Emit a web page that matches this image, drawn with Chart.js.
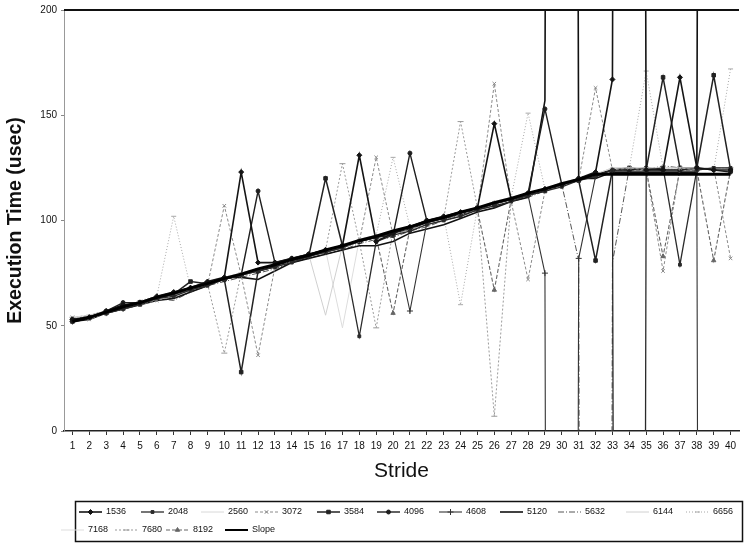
<!DOCTYPE html>
<html>
<head>
<meta charset="utf-8">
<script src="https://cdn.jsdelivr.net/npm/chart.js@4.4.1/dist/chart.umd.min.js"></script>
<style>
  html, body { margin: 0; padding: 0; background: #fff; }
</style>
</head>
<body>
<canvas id="chart" width="744" height="544"></canvas>
<script>
// categories
const strides = ["1","2","3","4","5","6","7","8","9","10","11","12","13","14","15","16","17","18","19","20",
  "21","22","23","24","25","26","27","28","29","30","31","32","33","34","35","36","37","38","39","40"];
const yTicks = [0, 50, 100, 150, 200];

// execution time (usec) per array size
const s1536 = [53,54,57,60,61,64,66,68,71,73,123,80,80,82,84,86,88,131,90,94,97,100,102,104,106,146,110,113,115,117,120,123,167,3000,124,124,168,125,124,124];
const s2048 = [53,54,56,58,60,63,64,67,69,72,74,76,78,80,83,85,87,45,90,93,95,98,100,102,105,107,109,112,114,116,119,121,124,-3000,124,125,79,124,125,125];
const s2560 = [54,55,57,59,61,64,66,68,70,73,75,77,79,82,84,86,88,91,93,95,97,100,102,104,106,109,111,113,115,118,120,122,125,125,125,125,125,125,125,125];
const s3072 = [54,53,56,58,60,62,64,67,69,107,74,36,78,81,83,85,87,90,130,93,96,98,100,103,105,165,109,72,114,117,119,163,124,125,124,76,125,124,125,82];
const s3584 = [52,54,56,59,61,63,65,71,70,72,28,76,78,81,83,120,88,90,92,94,96,99,101,103,106,108,110,112,114,117,119,81,124,125,124,168,125,125,169,124];
const s4096 = [53,54,57,61,61,63,65,68,70,72,74,114,80,82,84,86,88,90,92,93,132,100,101,103,106,108,110,113,153,117,120,122,124,124,125,124,124,125,124,123];
const s4608 = [52,54,56,58,61,63,65,67,70,72,74,76,78,81,83,85,87,90,92,94,57,99,101,103,105,108,110,112,75,-3000,82,121,124,124,124,124,124,124,-3000,-3000];
const s5120 = [52,53,56,58,60,62,63,66,69,73,73,72,76,80,82,84,86,88,88,90,94,96,98,101,104,106,109,111,157,3000,120,120,123,123,123,123,123,123,3000,3000];
const s5632 = [53,55,57,59,61,63,62,66,69,71,73,75,77,80,82,84,86,89,91,92,95,97,100,102,105,107,109,111,114,117,81,-3000,80,125,124,126,125,124,125,125];
const s6144 = [53,54,56,59,61,63,65,68,70,72,75,77,79,81,84,55,88,90,93,95,97,99,101,104,106,108,110,113,115,117,120,122,125,125,125,125,125,125,125,125];
const s6656 = [54,54,57,59,62,64,102,68,71,73,75,77,79,82,84,86,88,91,93,130,97,100,102,60,106,108,111,151,115,118,120,122,124,125,171,125,124,125,124,172];
const s7168 = [53,55,56,59,61,63,66,68,70,73,75,77,79,81,84,86,49,91,93,95,97,100,102,104,106,109,111,113,115,118,120,122,125,125,125,125,125,125,125,125];
const s7680 = [54,55,57,59,61,63,64,68,70,37,75,77,79,81,83,86,127,90,49,95,97,99,101,147,106,7,110,113,115,117,119,122,124,124,125,125,125,124,125,125];
const s8192 = [53,54,56,58,60,63,65,67,70,72,74,76,78,81,83,85,87,90,92,56,96,99,101,103,105,67,110,112,115,117,119,121,124,124,124,83,124,124,81,124];
const slope = [52,54,56.5,59,61,63.5,65.5,68,70,72.5,74.5,77,79,81.5,83.5,86,88,90.5,92.5,95,97,99.5,101.5,104,106,108.5,110.5,113,115,117.5,119.5,122,122,122,122,122,122,122,122,122];

const seriesNames = ["1536","2048","2560","3072","3584","4096","4608","5120","5632","6144","6656","7168","7680","8192","Slope"];
const seriesValues = [s1536,s2048,s2560,s3072,s3584,s4096,s4608,s5120,s5632,s6144,s6656,s7168,s7680,s8192,slope];

// look of each series (scanned greyscale)
const looks = [
  { color: "#141414", width: 1.6, dash: [],        point: "rectRot",  r: 2.5 },
  { color: "#2a2a2a", width: 1.3, dash: [],        point: "rect",     r: 2 },
  { color: "#d8d8d8", width: 1,   dash: [],        point: false,      r: 0 },
  { color: "#8a8a8a", width: 1,   dash: [3, 2],    point: "crossRot", r: 2.5 },
  { color: "#222222", width: 1.5, dash: [],        point: "rect",     r: 2.5 },
  { color: "#1e1e1e", width: 1.4, dash: [],        point: "circle",   r: 2 },
  { color: "#333333", width: 1.1, dash: [],        point: "cross",    r: 3 },
  { color: "#111111", width: 1.6, dash: [],        point: false,      r: 0 },
  { color: "#555555", width: 1,   dash: [6, 2, 1, 2], point: false,   r: 0 },
  { color: "#d0d0d0", width: 1,   dash: [],        point: false,      r: 0 },
  { color: "#a8a8a8", width: 1,   dash: [1, 2],    point: "dash",     r: 2.5 },
  { color: "#dddddd", width: 1,   dash: [],        point: false,      r: 0 },
  { color: "#9a9a9a", width: 1,   dash: [2, 2],    point: "dash",     r: 3 },
  { color: "#666666", width: 1.1, dash: [4, 2],    point: "triangle", r: 2.5 },
  { color: "#000000", width: 3,   dash: [],        point: false,      r: 0 }
];

// legend layout: text x and row of each entry
const legendTextX = [106,168,228,282,344,404,466,527,585,653,713, 88,142,193,252];
const legendRowY  = [512,512,512,512,512,512,512,512,512,512,512, 530,530,530,530];

const datasets = seriesNames.map((name, i) => {
  const lk = looks[i];
  return {
    label: name,
    data: seriesValues[i],
    borderColor: lk.color,
    backgroundColor: lk.color,
    borderWidth: lk.width,
    borderDash: lk.dash,
    pointStyle: lk.point === "dash" ? "line" : lk.point,
    pointRadius: lk.r,
    pointBorderColor: lk.color,
    pointBackgroundColor: lk.color,
    pointBorderWidth: 1,
    tension: 0,
    fill: false,
    clip: 0,
    order: name === "Slope" ? 0 : 1
  };
});

const topLine = {
  id: "topLine",
  afterDatasetsDraw(chart) {
    const { ctx, chartArea } = chart;
    ctx.save();
    ctx.strokeStyle = "#111";
    ctx.lineWidth = 2;
    ctx.beginPath();
    ctx.moveTo(chartArea.left, chartArea.top);
    ctx.lineTo(chartArea.right, chartArea.top);
    ctx.stroke();
    ctx.restore();
  }
};

const boxLegend = {
  id: "boxLegend",
  afterDraw(chart) {
    const ctx = chart.ctx;
    ctx.save();
    ctx.strokeStyle = "#111";
    ctx.lineWidth = 1.5;
    ctx.strokeRect(75.5, 501.5, 667, 40);
    ctx.font = "9px 'Liberation Sans', Arial, sans-serif";
    ctx.textBaseline = "middle";
    ctx.textAlign = "left";
    chart.data.datasets.forEach((ds, i) => {
      const tx = legendTextX[i], ty = legendRowY[i];
      const x0 = tx - 27, x1 = tx - 4;
      ctx.strokeStyle = ds.borderColor;
      ctx.lineWidth = Math.min(ds.borderWidth, 2);
      ctx.setLineDash(ds.borderDash);
      ctx.beginPath();
      ctx.moveTo(x0, ty);
      ctx.lineTo(x1, ty);
      ctx.stroke();
      ctx.setLineDash([]);
      if (ds.pointRadius > 0) {
        ctx.fillStyle = ds.pointBackgroundColor;
        ctx.strokeStyle = ds.pointBorderColor;
        ctx.lineWidth = 1;
        Chart.helpers.drawPoint(ctx, { pointStyle: ds.pointStyle, radius: ds.pointRadius, rotation: 0, borderWidth: 1 }, (x0 + x1) / 2, ty);
      }
      ctx.fillStyle = "#111";
      ctx.fillText(ds.label, tx, ty);
    });
    ctx.restore();
  }
};

Chart.defaults.font.family = "'Liberation Sans', Arial, sans-serif";
Chart.defaults.color = "#111";

new Chart(document.getElementById("chart"), {
  type: "line",
  data: { labels: strides, datasets: datasets },
  options: {
    responsive: false,
    animation: false,
    devicePixelRatio: 1,
    events: [],
    layout: { padding: { left: 2, right: 0, top: 8, bottom: 60 } },
    plugins: { legend: { display: false }, tooltip: { enabled: false } },
    scales: {
      x: {
        type: "category",
        offset: true,
        afterFit: (s) => { s.height = 53; },
        grid: { drawOnChartArea: false, tickLength: 4, color: "#333" },
        border: { color: "#222", width: 1.5 },
        ticks: { autoSkip: false, maxRotation: 0, padding: 5, font: { size: 10, family: "'Liberation Sans Narrow', 'Liberation Sans', sans-serif" } },
        title: { display: true, text: "Stride", padding: { top: 0, bottom: 0 },
                 font: { size: 21, family: "'Liberation Sans Narrow', 'Liberation Sans', sans-serif" } }
      },
      y: {
        min: 0,
        max: 200,
        afterFit: (s) => { s.width = 62; },
        afterBuildTicks: (s) => { s.ticks = yTicks.map((v) => ({ value: v })); },
        grid: { drawOnChartArea: false, tickLength: 3, color: "#888" },
        border: { color: "#999", width: 1, dash: [3, 2] },
        ticks: { padding: 4, font: { size: 10, family: "'Liberation Sans Narrow', 'Liberation Sans', sans-serif" } },
        title: { display: true, text: "Execution Time (usec)", padding: { top: 2, bottom: 4 },
                 font: { size: 19.5, weight: "bold" } }
      }
    }
  },
  plugins: [topLine, boxLegend]
});
</script>
</body>
</html>
